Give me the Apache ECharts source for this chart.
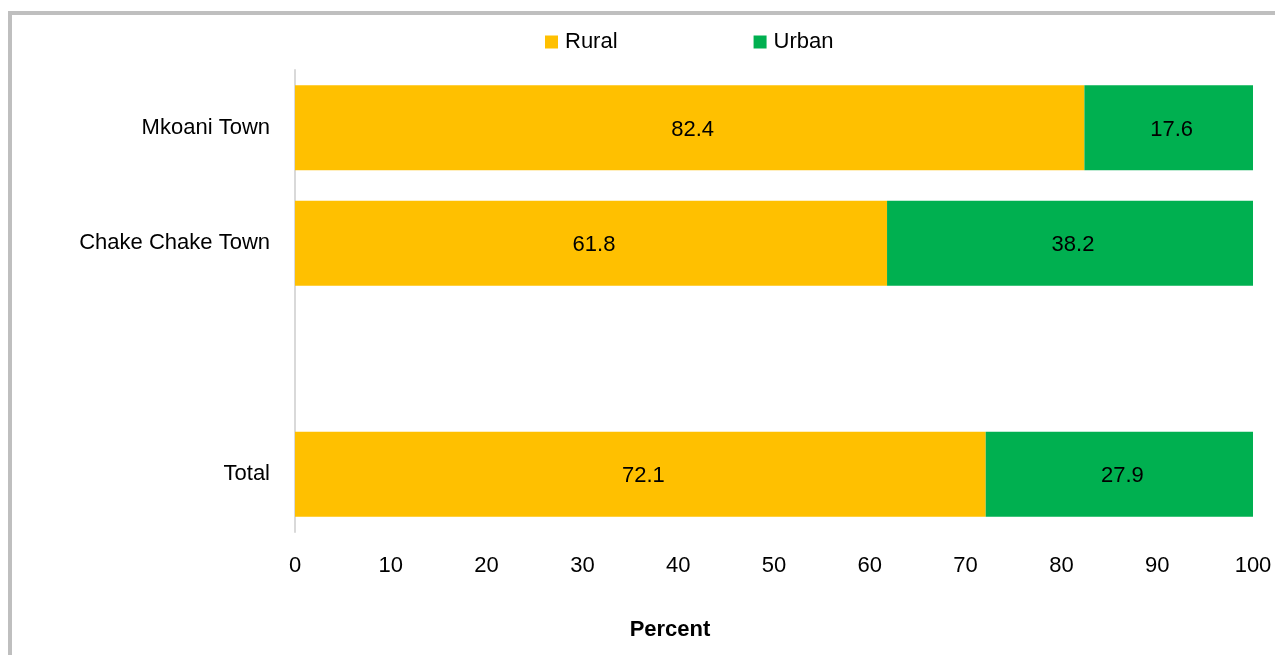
<!DOCTYPE html>
<html>
<head>
<meta charset="utf-8">
<script src="https://cdn.jsdelivr.net/npm/echarts@6/dist/echarts.min.js"></script>
<style>
  html, body { margin: 0; padding: 0; width: 1275px; height: 655px; overflow: hidden; background: #fff; }
  #frame {
    position: absolute; left: 8px; top: 11px; width: 1300px; height: 700px;
    border: 4px solid #bfbfbf; box-sizing: border-box;
  }
  #chartBox { position: absolute; left: 0; top: 0; width: 1275px; height: 655px; }
</style>
</head>
<body>
<div id="frame"></div>
<div id="chartBox"></div>
<script>
const categories = ["Mkoani Town", "Chake Chake Town", "", "Total"];
const rural = [82.4, 61.8, null, 72.1];
const urban = [17.6, 38.2, null, 27.9];
const xTicks = [0, 10, 20, 30, 40, 50, 60, 70, 80, 90, 100];

const font = "'Liberation Sans Narrow', 'Liberation Sans', Arial, sans-serif";

const chartFun = () => {
  const myChart = echarts.init(document.getElementById("chartBox"));
  const option = {
    animation: false,
    legend: {
      top: 26,
      left: 540,
      itemWidth: 13,
      itemHeight: 13,
      itemGap: 136,
      icon: "rect",
      textStyle: { fontFamily: font, fontSize: 22, color: "#000", padding: [0, 0, 0, 2] },
      data: ["Rural", "Urban"],
    },
    grid: { left: 295, right: 22, top: 70, bottom: 123, outerBoundsMode: "none" },
    xAxis: {
      type: "value",
      min: xTicks[0],
      max: xTicks[xTicks.length - 1],
      interval: 10,
      axisLine: { show: false },
      axisTick: { show: false },
      splitLine: { show: false },
      axisLabel: { fontFamily: font, fontSize: 22, color: "#000", margin: 23 },
    },
    yAxis: {
      type: "category",
      inverse: true,
      data: categories,
      axisLine: { show: true, lineStyle: { color: "#d9d9d9", width: 2 } },
      axisTick: { show: false },
      axisLabel: { fontFamily: font, fontSize: 22, color: "#000", margin: 25 },
    },
    graphic: [
      {
        type: "text",
        x: 670,
        y: 630,
        style: {
          text: "Percent",
          font: "bold 22px 'Liberation Sans', Arial, sans-serif",
          fill: "#000",
          textAlign: "center",
          textVerticalAlign: "middle",
        },
      },
    ],
    series: [
      {
        name: "Rural",
        type: "bar",
        stack: "total",
        barWidth: 85,
        itemStyle: { color: "#ffc000" },
        label: { show: true, position: "inside", fontFamily: font, fontSize: 22, color: "#000", offset: [3, 2] },
        data: rural,
      },
      {
        name: "Urban",
        type: "bar",
        stack: "total",
        barWidth: 85,
        itemStyle: { color: "#00b050" },
        label: { show: true, position: "inside", fontFamily: font, fontSize: 22, color: "#000", offset: [3, 2] },
        data: urban,
      },
    ],
  };
  myChart.setOption(option);
};

chartFun();
</script>
</body>
</html>
